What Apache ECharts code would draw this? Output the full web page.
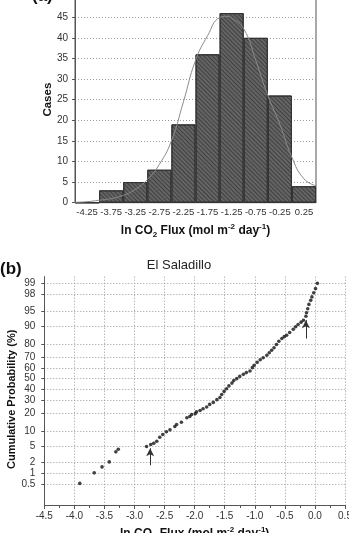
<!DOCTYPE html>
<html>
<head>
<meta charset="utf-8">
<title>ln CO2 flux - El Saladillo</title>
<script src="https://cdn.jsdelivr.net/npm/echarts@6/dist/echarts.min.js"></script>
<style>
  html, body { margin: 0; padding: 0; background: #fff; }
  #chart { width: 349px; height: 533px; }
</style>
</head>
<body>
<div id="chart"></div>
<script>
// (a) histogram of ln CO2 flux
var binLabels = ['-4.25', '-3.75', '-3.25', '-2.75', '-2.25', '-1.75', '-1.25', '-0.75', '-0.25', '0.25'];
var binCases = [0, 3, 5, 8, 19, 36, 46, 40, 26, 4];

// fitted normal curve
var curveX = [-4.5, -4.25, -4.0, -3.75, -3.5, -3.25, -3.0, -2.75, -2.5, -2.25, -2.0, -1.75, -1.5, -1.35, -1.25, -1.0, -0.75, -0.5, -0.25, 0.0, 0.25, 0.5];
var curveY = [0.1, 0.25, 0.6, 1.0, 1.8, 3.2, 5.6, 9.3, 15.0, 24.5, 34.5, 40.5, 44.9, 45.2, 44.8, 42.2, 34.5, 26.0, 19.0, 11.0, 5.8, 4.1];

// (b) normal probability plot, El Saladillo
var fluxX = [-3.91, -3.67, -3.54, -3.42, -3.31, -3.27, -2.80, -2.73, -2.68, -2.63, -2.58, -2.53, -2.47, -2.41, -2.33, -2.30, -2.22, -2.13, -2.08, -2.05,
             -1.99, -1.97, -1.91, -1.86, -1.80, -1.75, -1.69, -1.63, -1.58, -1.55, -1.51, -1.47, -1.43, -1.38, -1.35, -1.30, -1.25, -1.19, -1.14, -1.08,
             -1.04, -1.01, -0.96, -0.91, -0.86, -0.80, -0.76, -0.72, -0.68, -0.64, -0.60, -0.55, -0.51, -0.47, -0.42, -0.36, -0.32, -0.28, -0.23, -0.19,
             -0.15, -0.14, -0.12, -0.10, -0.07, -0.05, -0.02, 0.01, 0.04];
var cumProb = [0.52, 1.06, 1.54, 2.08, 3.66, 4.20, 4.83, 5.34, 5.70, 6.28, 7.58, 8.57, 9.66, 10.5, 12.1, 13.1, 14.3, 16.9, 17.7, 19.0,
               19.5, 20.9, 21.8, 23.0, 24.4, 26.4, 28.0, 30.3, 32.2, 34.9, 37.7, 40.2, 42.9, 45.6, 48.0, 49.9, 52.1, 54.1, 55.8, 57.3,
               60.5, 62.7, 65.4, 67.7, 69.4, 71.5, 73.6, 75.5, 77.4, 79.7, 81.9, 83.6, 84.7, 85.5, 87.0, 88.6, 89.7, 90.7, 91.6, 92.3,
               93.6, 94.6, 95.6, 96.5, 97.2, 97.7, 98.2, 98.6, 99.0];
var probTicks = [0.5, 1, 2, 5, 10, 20, 30, 40, 50, 60, 70, 80, 90, 95, 98, 99];

// the two arrows (x, from %, to %)
var arrowX = [-2.74, -0.15];
var arrowFrom = [1.7, 83.6];
var arrowTo = [4.4, 92.3];

// inverse normal cdf (Acklam), used for the probability axis
function probit(p) {
    var a = [-39.69683028665376, 220.9460984245205, -275.9285104469687, 138.3577518672690, -30.66479806614716, 2.506628277459239];
    var b = [-54.47609879822406, 161.5858368580409, -155.6989798598866, 66.80131188771972, -13.28068155288572];
    var c = [-0.007784894002430293, -0.3223964580411365, -2.400758277161838, -2.549732539343734, 4.374664141464968, 2.938163982698783];
    var d = [0.007784695709041462, 0.3224671290700398, 2.445134137142996, 3.754408661907416];
    var q, r;
    if (p < 0.02425) {
        q = Math.sqrt(-2 * Math.log(p));
        return (((((c[0]*q+c[1])*q+c[2])*q+c[3])*q+c[4])*q+c[5]) / ((((d[0]*q+d[1])*q+d[2])*q+d[3])*q+1);
    }
    if (p > 1 - 0.02425) {
        q = Math.sqrt(-2 * Math.log(1 - p));
        return -(((((c[0]*q+c[1])*q+c[2])*q+c[3])*q+c[4])*q+c[5]) / ((((d[0]*q+d[1])*q+d[2])*q+d[3])*q+1);
    }
    q = p - 0.5;
    r = q * q;
    return (((((a[0]*r+a[1])*r+a[2])*r+a[3])*r+a[4])*r+a[5])*q / (((((b[0]*r+b[1])*r+b[2])*r+b[3])*r+b[4])*r+1);
}

var tickZ = probTicks.map(function (p) { return probit(p / 100); });
var curveData = curveX.map(function (x, i) { return [x, curveY[i]]; });
var probData = fluxX.map(function (x, i) { return [x, probit(cumProb[i] / 100)]; });
var arrowLines = arrowX.map(function (x, i) {
    return [{ coord: [x, probit(arrowFrom[i] / 100)] }, { coord: [x, probit(arrowTo[i] / 100)] }];
});

var font = 'Liberation Sans, Arial, sans-serif';
var gridLine = { show: true, lineStyle: { color: '#9a9a9a', type: [1, 2], width: 1 } };
var fluxName = 'ln CO{sub|2} Flux (mol m{sup|-2} day{sup|-1})';
var nameRich = {
    sub: { fontSize: 8, fontWeight: 'bold', fontFamily: font, color: '#111', verticalAlign: 'bottom', lineHeight: 9 },
    sup: { fontSize: 8, fontWeight: 'bold', fontFamily: font, color: '#111', verticalAlign: 'top', lineHeight: 9 }
};

var chart = echarts.init(document.getElementById('chart'), null, { renderer: 'canvas' });
var option = {
    animation: false,
    backgroundColor: '#fff',
    textStyle: { fontFamily: font },
    graphic: [
        { type: 'text', left: 32, top: -12, style: { text: '(a)', font: 'bold 17px ' + font, fill: '#111' } },
        { type: 'text', left: 0, top: 261, style: { text: '(b)', font: 'bold 17px ' + font, fill: '#111' } },
        { type: 'text', x: 179, y: 265, style: { text: 'El Saladillo', font: '13px ' + font, fill: '#222', align: 'center', verticalAlign: 'middle' } }
    ],
    grid: [
        { left: 75, right: 33, top: -3.4, bottom: 330.3, show: true, borderColor: '#555', borderWidth: 1, outerBoundsMode: 'none' },
        { left: 44.3, right: 4, top: 276.7, bottom: 28, outerBoundsMode: 'none' }
    ],
    xAxis: [
        {
            type: 'category', gridIndex: 0, data: binLabels,
            axisLine: { lineStyle: { color: '#555' } },
            axisTick: { show: false },
            axisLabel: { interval: 0, fontSize: 9.5, color: '#333', margin: 5 },
            name: fluxName, nameLocation: 'middle', nameGap: 20,
            nameTextStyle: { fontSize: 12, fontWeight: 'bold', color: '#111', lineHeight: 16, rich: nameRich }
        },
        { type: 'value', gridIndex: 0, min: -4.5, max: 0.5, show: false },
        {
            type: 'value', gridIndex: 1, min: -4.5, max: 0.5, interval: 0.5,
            axisLine: { onZero: false, lineStyle: { color: '#555' } },
            axisTick: { length: 4, lineStyle: { color: '#555' } },
            minorTick: { show: true, splitNumber: 2, length: 3, lineStyle: { color: '#555' } },
            axisLabel: { fontSize: 10, color: '#333', margin: 6, formatter: function (v) { return v.toFixed(1); } },
            splitLine: gridLine,
            name: fluxName, nameLocation: 'middle', nameGap: 21,
            nameTextStyle: { fontSize: 12, fontWeight: 'bold', color: '#111', lineHeight: 16, rich: nameRich }
        }
    ],
    yAxis: [
        {
            type: 'value', gridIndex: 0, min: 0, max: 50, interval: 5,
            axisLine: { show: true, onZero: false, lineStyle: { color: '#555' } },
            axisTick: { show: true, length: 3, lineStyle: { color: '#555' } },
            axisLabel: { fontSize: 10, color: '#333', margin: 7, showMaxLabel: false },
            splitLine: gridLine,
            name: 'Cases', nameLocation: 'middle', nameRotate: 90, nameGap: 21, nameMoveOverlap: false,
            nameTextStyle: { fontSize: 11.5, fontWeight: 'bold', color: '#111' }
        },
        {
            type: 'value', gridIndex: 1, min: probit(0.001), max: probit(0.9936),
            axisLine: { show: true, onZero: false, lineStyle: { color: '#555' } },
            axisTick: { show: true, length: 3, customValues: tickZ, lineStyle: { color: '#555' } },
            axisLabel: {
                fontSize: 10, color: '#333', margin: 9, customValues: tickZ,
                formatter: function (v) {
                    for (var i = 0; i < tickZ.length; i++) {
                        if (Math.abs(tickZ[i] - v) < 1e-6) return String(probTicks[i]);
                    }
                    return '';
                }
            },
            splitLine: gridLine,
            name: 'Cumulative Probability (%)', nameLocation: 'middle', nameRotate: 90, nameGap: 27, nameMoveOverlap: false,
            nameTextStyle: { fontSize: 11, fontWeight: 'bold', color: '#111', padding: [0, 17, 0, 0] }
        }
    ],
    series: [
        {
            type: 'bar', xAxisIndex: 0, yAxisIndex: 0, data: binCases,
            barCategoryGap: '0%',
            itemStyle: {
                color: '#646464', borderColor: '#333', borderWidth: 1,
                decal: { symbol: 'rect', symbolSize: 1, dashArrayX: [1, 0], dashArrayY: [1, 2], rotation: Math.PI / 4, color: 'rgba(0,0,0,0.35)' }
            }
        },
        {
            type: 'line', xAxisIndex: 1, yAxisIndex: 0, data: curveData,
            smooth: 0.5, showSymbol: false,
            lineStyle: { color: '#8a8a8a', width: 1 }
        },
        {
            type: 'scatter', xAxisIndex: 2, yAxisIndex: 1, data: probData,
            symbolSize: 3.6, itemStyle: { color: '#111' },
            markLine: {
                silent: true, symbol: ['none', 'arrow'], symbolSize: [6, 8],
                label: { show: false },
                lineStyle: { color: '#333', width: 1, type: 'solid' },
                data: arrowLines
            }
        }
    ]
};
chart.setOption(option);
window.addEventListener('resize', function () { chart.resize(); });
</script>
</body>
</html>
